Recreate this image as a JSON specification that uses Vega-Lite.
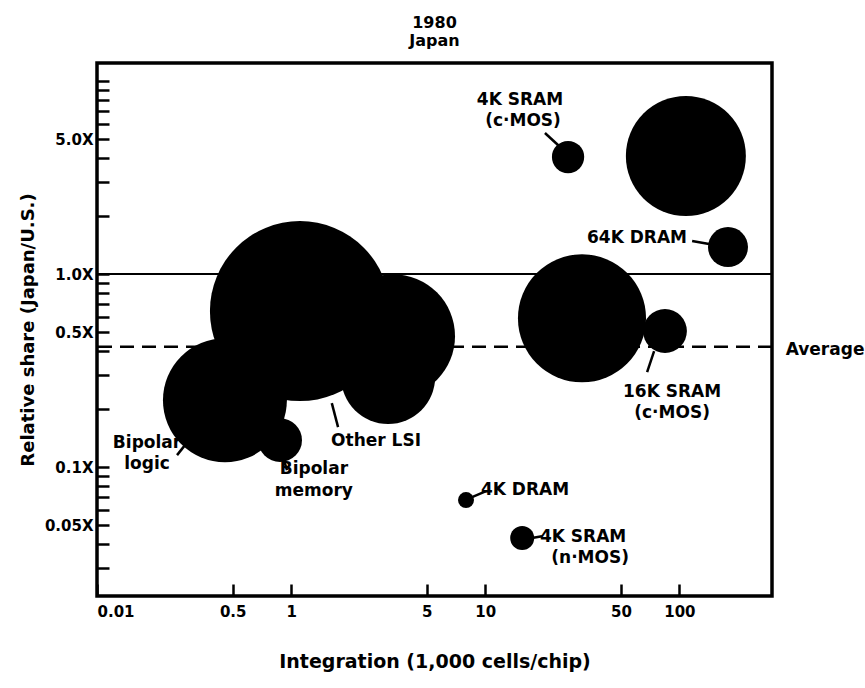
{
  "$schema": "https://vega.github.io/schema/vega-lite/v6.json",
  "width": 675,
  "height": 533,
  "autosize": {"type": "none"},
  "padding": {"left": 97, "top": 63, "right": 93, "bottom": 92},
  "background": "white",
  "title": {"text": ["1980", "Japan"], "font": "DejaVu Sans", "fontSize": 16, "fontWeight": "bold", "lineHeight": 18, "offset": 14, "color": "black"},
  "config": {"view": {"stroke": "black", "strokeWidth": 3.5}, "font": "DejaVu Sans"},
  "datasets": {
    "lines": [{"name": "parity", "y": 1}, {"name": "average", "y": 0.42}],
    "bubbles": [
      {"name": "large cluster", "x": 1.11, "y": 0.643, "market": 810},
      {"name": "Other LSI", "x": 3.35, "y": 0.477, "market": 384},
      {"name": "Other LSI (lower)", "x": 3.16, "y": 0.293, "market": 221},
      {"name": "Bipolar logic", "x": 0.456, "y": 0.222, "market": 384},
      {"name": "Bipolar memory", "x": 0.877, "y": 0.138, "market": 48},
      {"name": "4K SRAM (c-MOS)", "x": 26.7, "y": 4.04, "market": 26},
      {"name": "upper right", "x": 108, "y": 4.09, "market": 360},
      {"name": "64K DRAM", "x": 178, "y": 1.38, "market": 40},
      {"name": "middle right", "x": 31.5, "y": 0.59, "market": 410},
      {"name": "16K SRAM (c-MOS)", "x": 84.3, "y": 0.507, "market": 48},
      {"name": "4K DRAM", "x": 7.96, "y": 0.0675, "market": 6.4},
      {"name": "4K SRAM (n-MOS)", "x": 15.5, "y": 0.0429, "market": 14.4}
    ],
    "leaders": [
      {"x": 20.3, "y": 5.38, "x2": 24.0, "y2": 4.61},
      {"x": 116.3, "y": 1.483, "x2": 142.2, "y2": 1.43},
      {"x": 68.2, "y": 0.3107, "x2": 74.1, "y2": 0.399},
      {"x": 1.62, "y": 0.2146, "x2": 1.745, "y2": 0.1612},
      {"x": 0.2584, "y": 0.1154, "x2": 0.284, "y2": 0.13},
      {"x": 0.919, "y": 0.1087, "x2": 0.952, "y2": 0.0964},
      {"x": 8.55, "y": 0.0699, "x2": 10.1, "y2": 0.0751},
      {"x": 17.4, "y": 0.0429, "x2": 19.6, "y2": 0.0439}
    ],
    "labels": [
      {"x": 15.1, "y": 7.97, "text": "4K SRAM"},
      {"x": 15.65, "y": 6.2, "text": "(c·MOS)"},
      {"x": 60.5, "y": 1.537, "text": "64K DRAM"},
      {"x": 91.7, "y": 0.2446, "text": "16K SRAM"},
      {"x": 91.7, "y": 0.1905, "text": "(c·MOS)"},
      {"x": 563, "y": 0.404, "text": "Average"},
      {"x": 2.738, "y": 0.1364, "text": "Other LSI"},
      {"x": 0.181, "y": 0.1331, "text": "Bipolar"},
      {"x": 0.181, "y": 0.1036, "text": "logic"},
      {"x": 1.31, "y": 0.0975, "text": "Bipolar"},
      {"x": 1.31, "y": 0.0752, "text": "memory"},
      {"x": 16.03, "y": 0.076, "text": "4K DRAM"},
      {"x": 31.9, "y": 0.0434, "text": "4K SRAM"},
      {"x": 34.7, "y": 0.0338, "text": "(n·MOS)"}
    ]
  },
  "layer": [
    {
      "data": {"name": "bubbles"},
      "mark": {"type": "circle", "color": "black", "opacity": 1},
      "encoding": {
        "x": {
          "field": "x", "type": "quantitative",
          "title": "Integration (1,000 cells/chip)",
          "scale": {"type": "log", "domain": [0.1, 300]},
          "axis": {
            "values": [0.1, 0.5, 1, 5, 10, 50, 100],
            "labelExpr": "datum.value < 0.2 ? '0.01' : datum.value + ''",
            "tickSize": -12, "tickWidth": 2.5, "tickColor": "black",
            "domain": false, "grid": false,
            "labelFont": "DejaVu Sans", "labelFontWeight": "bold", "labelFontSize": 15, "labelColor": "black",
            "labelPadding": 20, "labelOverlap": false, "labelBound": false, "labelFlush": true,
            "titleFont": "DejaVu Sans", "titleFontWeight": "bold", "titleFontSize": 19, "titleColor": "black",
            "titlePadding": 33
          }
        },
        "y": {
          "field": "y", "type": "quantitative",
          "title": "Relative share (Japan/U.S.)",
          "scale": {"type": "log", "domain": [0.0215, 12.4]},
          "axis": {
            "values": [0.03, 0.04, 0.05, 0.06, 0.07, 0.08, 0.09, 0.1, 0.2, 0.3, 0.4, 0.5, 0.6, 0.7, 0.8, 0.9, 1, 2, 3, 4, 5, 6, 7, 8, 9, 10],
            "labelExpr": "datum.value == 5 ? '5.0X' : datum.value == 1 ? '1.0X' : datum.value == 0.5 ? '0.5X' : datum.value == 0.1 ? '0.1X' : datum.value == 0.05 ? '0.05X' : ''",
            "tickSize": -12, "tickWidth": 2.5, "tickColor": "black",
            "domain": false, "grid": false,
            "labelFont": "DejaVu Sans", "labelFontWeight": "bold", "labelFontSize": 15, "labelColor": "black",
            "labelPadding": 16, "labelOverlap": false, "labelBound": false, "labelFlush": false,
            "titleFont": "DejaVu Sans", "titleFontWeight": "bold", "titleFontSize": 18, "titleColor": "black",
            "titlePadding": 7
          }
        },
        "size": {"field": "market", "type": "quantitative", "scale": {"type": "linear", "domain": [0, 1000], "range": [0, 40000]}, "legend": null}
      }
    },
    {
      "data": {"name": "lines"},
      "transform": [{"filter": "datum.name == 'parity'"}],
      "mark": {"type": "rule", "color": "black", "strokeWidth": 2},
      "encoding": {
        "y": {"field": "y", "type": "quantitative", "title": "Relative share (Japan/U.S.)", "scale": {"type": "log", "domain": [0.0215, 12.4]}}
      }
    },
    {
      "data": {"name": "lines"},
      "transform": [{"filter": "datum.name == 'average'"}],
      "mark": {"type": "rule", "color": "black", "strokeWidth": 2.5, "strokeDash": [14, 8]},
      "encoding": {
        "y": {"field": "y", "type": "quantitative", "title": "Relative share (Japan/U.S.)", "scale": {"type": "log", "domain": [0.0215, 12.4]}}
      }
    },
    {
      "data": {"name": "leaders"},
      "mark": {"type": "rule", "color": "black", "strokeWidth": 2.5},
      "encoding": {
        "x": {"field": "x", "type": "quantitative", "title": "Integration (1,000 cells/chip)", "scale": {"type": "log", "domain": [0.1, 300]}},
        "y": {"field": "y", "type": "quantitative", "title": "Relative share (Japan/U.S.)", "scale": {"type": "log", "domain": [0.0215, 12.4]}},
        "x2": {"field": "x2"},
        "y2": {"field": "y2"}
      }
    },
    {
      "data": {"name": "labels"},
      "mark": {"type": "text", "font": "DejaVu Sans", "fontWeight": "bold", "fontSize": 17, "color": "black", "align": "center", "baseline": "middle"},
      "encoding": {
        "x": {"field": "x", "type": "quantitative", "title": "Integration (1,000 cells/chip)", "scale": {"type": "log", "domain": [0.1, 300]}},
        "y": {"field": "y", "type": "quantitative", "title": "Relative share (Japan/U.S.)", "scale": {"type": "log", "domain": [0.0215, 12.4]}},
        "text": {"field": "text"}
      }
    }
  ]
}
